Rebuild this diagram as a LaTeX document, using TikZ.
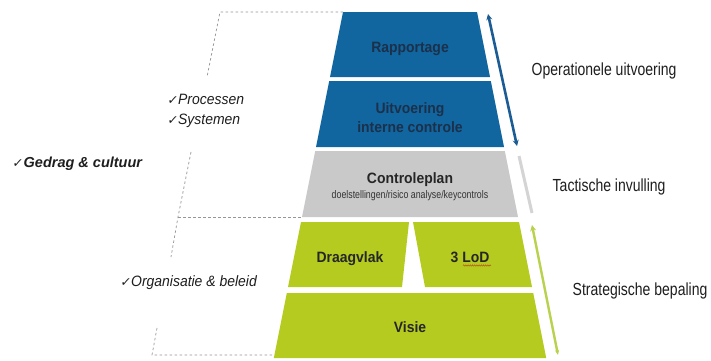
\documentclass[tikz,border=0pt]{standalone}
\usepackage{fontspec}
\setmainfont{Liberation Sans}
\newfontfamily\narrowfont[FakeStretch=0.8]{Liberation Sans}
\newfontfamily\leftfont[FakeStretch=0.93]{Liberation Sans}
\newfontfamily\blockfont[FakeStretch=0.93]{Liberation Sans}
\newfontfamily\symfont[FakeSlant=0.15]{DejaVu Sans}
\usetikzlibrary{arrows.meta,decorations.pathmorphing}

\definecolor{opblue}{RGB}{17,102,160}
\definecolor{optext}{RGB}{28,48,74}
\definecolor{tacgray}{RGB}{201,201,201}
\definecolor{strgreen}{RGB}{181,203,32}
\definecolor{arrblue}{RGB}{27,92,148}
\definecolor{arrgray}{RGB}{212,212,212}
\definecolor{arrgreen}{RGB}{184,210,78}
\definecolor{guidegray}{RGB}{150,150,150}
\definecolor{labeltext}{RGB}{30,30,30}
\definecolor{squiggle}{RGB}{185,85,35}

\newcommand{\chk}{{\symfont\fontsize{12.5}{14}\selectfont ✓}}

\begin{document}
\begin{tikzpicture}[x=1pt,y=-1pt,
  blocktxt/.style={inner sep=0pt, anchor=base, font=\blockfont\bfseries\fontsize{15}{19}\selectfont},
  sidetxt/.style={inner sep=0pt, anchor=base west, text=labeltext,
    font=\narrowfont\fontsize{17.5}{20}\selectfont},
  lefttxt/.style={inner sep=0pt, anchor=base west, text=labeltext,
    font=\leftfont\itshape\fontsize{15}{20}\selectfont},
  guide/.style={draw=guidegray, line width=0.7pt, dash pattern=on 2.5pt off 2.5pt}]

\useasboundingbox[fill=white] (0,0) rectangle (711,360);

% ---- pyramid layers ----
\fill[opblue]   (343,12) coordinate (rapTL) -- (477,12) -- (490,77) -- (330,77) -- cycle;
\fill[opblue]   (329.2,81) -- (490.8,81) -- (504,147) -- (316,147) -- cycle;
\fill[tacgray]  (315.2,151) -- (504.8,151) -- (518,217) -- (302,217) coordinate (ctrBL) -- cycle;
\fill[strgreen] (301,222) -- (409,222) -- (402,287) -- (288,287) -- cycle;
\fill[strgreen] (413,222) -- (519,222) -- (532,287) -- (425,287) -- cycle;
\fill[strgreen] (286.8,293) -- (533.2,293) -- (546.2,358) -- (273.8,358) coordinate (visBL) -- cycle;

% ---- layer texts ----
\node[blocktxt, text=optext] (rap)  at (410,52.5) {Rapportage};
\node[blocktxt, text=optext] (uit1) at (410,113)  {Uitvoering};
\node[blocktxt, text=optext] (uit2) at (410,132)  {interne controle};
\node[blocktxt, text=black!85] (ctr) at (410,183.5) {Controleplan};
\node[inner sep=0pt, anchor=base, text=black!80,
      font=\narrowfont\fontsize{11}{12}\selectfont] (ctrsub) at (410,198.5)
      {doelstellingen/risico analyse/keycontrols};
\node[blocktxt, text=black!85] (draag) at (350,262) {Draagvlak};
\node[blocktxt, text=black!85] (lod)   at (470,262) {3 LoD};
\node[blocktxt, text=black!85] (visie) at (410,332) {Visie};

% spell-check mark under "LoD"
\draw[squiggle, line width=0.5pt,
      decorate, decoration={snake, amplitude=0.7pt, segment length=2.2pt}]
  (463,265.5) coordinate (sqL) -- (491,265.5) coordinate (sqR);

% ---- side arrows ----
\coordinate (opA) at (488,14);
\coordinate (opB) at (517,146);
\coordinate (taA) at (519,156);
\coordinate (taB) at (532,213);
\coordinate (stA) at (532,225);
\coordinate (stB) at (558,355);
\draw[arrblue, line width=2.6pt, {Stealth[length=6pt,width=6pt]}-{Stealth[length=6pt,width=6pt]}] (opA) -- (opB);
\draw[arrgray, line width=3pt] (taA) -- (taB);
\draw[arrgreen, line width=2.4pt, {Stealth[length=6pt,width=6pt]}-{Stealth[length=5pt,width=4pt]}] (stA) -- (stB);

% ---- level labels ----
\node[sidetxt] (lop)  at (531.5,75)    {Operationele uitvoering};
\node[sidetxt] (ltac) at (552.5,191.5) {Tactische invulling};
\node[sidetxt] (lstr) at (572.5,295)   {Strategische bepaling};

% ---- guide lines ----
\coordinate (g1) at (220,12);
\coordinate (g2) at (207,77);
\coordinate (g3) at (191,152);
\coordinate (g4) at (178,217);
\coordinate (g5) at (171,257);
\coordinate (g6) at (157,328);
\coordinate (g7) at (152,355);
\draw[guide] (rapTL) -- (g1) -- (g2);
\draw[guide] (g3) -- (g4) -- (g5);
\draw[guide] (g4) -- (ctrBL);
\draw[guide] (g6) -- (g7) -- (visBL |- g7);

% ---- aspect labels ----
\node[lefttxt] (proc) at (167,104) {\chk\hspace{0.5pt}Processen};
\node[lefttxt] (sys)  at (167,124) {\chk\hspace{0.5pt}Systemen};
\node[lefttxt, font=\bfseries\itshape\fontsize{14.5}{18}\selectfont] (gedrag) at (12,167) {\chk\hspace{1pt}Gedrag \& cultuur};
\node[lefttxt] (org)  at (120,286.5) {\chk\hspace{0.5pt}Organisatie \& beleid};

\end{tikzpicture}
\end{document}
